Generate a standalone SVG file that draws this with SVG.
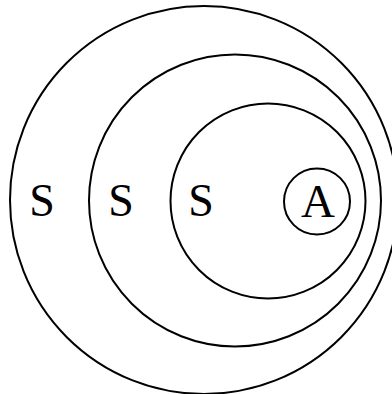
<svg xmlns="http://www.w3.org/2000/svg" width="392" height="394" viewBox="0 0 392 394">
<style>
.c{fill:none;stroke:#000;stroke-width:2}
.t{font-family:"Liberation Serif","Times New Roman",serif;font-size:46px;fill:#000;text-anchor:middle}
</style>
<rect width="392" height="394" fill="#fff"/>
<g id="outer"><circle class="c" cx="204" cy="200" r="194"/><text class="t" x="42" y="216">S</text></g>
<g id="middle"><circle class="c" cx="235" cy="200.5" r="146"/><text class="t" x="121" y="216">S</text></g>
<g id="inner"><circle class="c" cx="268" cy="201" r="97.5"/><text class="t" x="201" y="216">S</text></g>
<g id="A"><circle class="c" cx="317" cy="201.5" r="33"/><text class="t" x="318" y="217" style="font-size:47px">A</text></g>
<g id="connectors"/>
</svg>
